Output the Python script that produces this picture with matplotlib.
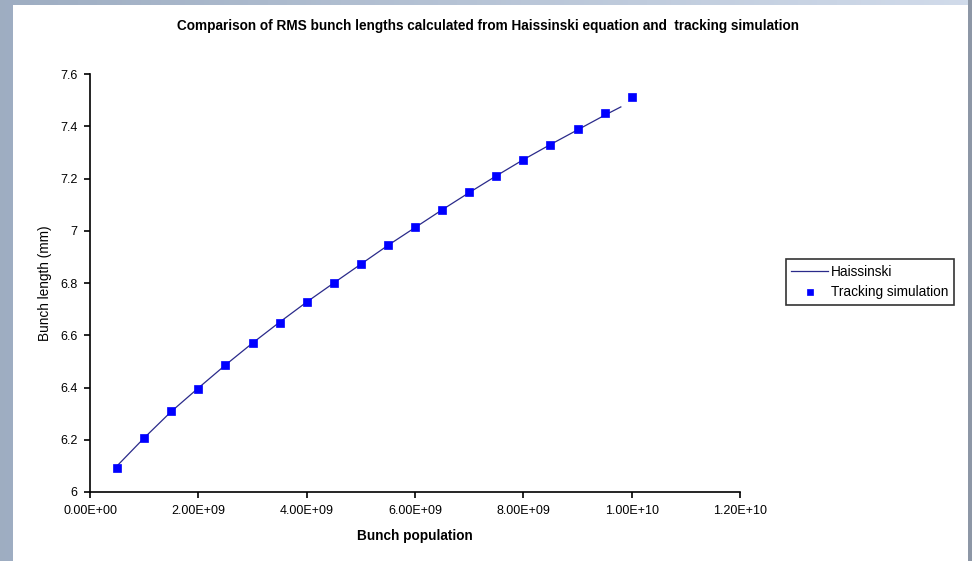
import matplotlib.pyplot as plt
import numpy as np
from matplotlib.patches import Rectangle
from matplotlib.ticker import FuncFormatter, MultipleLocator

plt.rcParams['font.family'] = ['Liberation Sans', 'DejaVu Sans']

# Tracking simulation points
track_n = [0.5e9, 1.0e9, 1.5e9, 2.0e9, 2.5e9, 3.0e9, 3.5e9, 4.0e9, 4.5e9, 5.0e9,
           5.5e9, 6.0e9, 6.5e9, 7.0e9, 7.5e9, 8.0e9, 8.5e9, 9.0e9, 9.5e9, 1.0e10]
track_len = [6.092, 6.207, 6.310, 6.394, 6.486, 6.570, 6.647, 6.727, 6.800, 6.873,
             6.945, 7.014, 7.079, 7.148, 7.210, 7.271, 7.328, 7.389, 7.451, 7.512]

# Haissinski curve
hais_n = [0.5e9, 1.0e9, 1.5e9, 2.0e9, 2.5e9, 3.0e9, 3.5e9, 4.0e9, 4.5e9, 5.0e9,
          5.5e9, 6.0e9, 6.5e9, 7.0e9, 7.5e9, 8.0e9, 8.5e9, 9.0e9, 9.5e9, 9.8e9]
hais_len = [6.100, 6.207, 6.308, 6.398, 6.486, 6.570, 6.650, 6.727, 6.800, 6.872,
            6.944, 7.012, 7.080, 7.146, 7.210, 7.272, 7.330, 7.386, 7.442, 7.474]

fig = plt.figure(figsize=(9.72, 5.61), dpi=100, facecolor='#c9d5e6')

# slide-like background: gradient frame with white panel
bg = fig.add_axes([0, 0, 1, 1], zorder=-10)
grad = np.linspace(0, 1, 200)
img = np.ones((10, 200, 3))
left = np.array([0.62, 0.68, 0.76])
light = np.array([0.82, 0.86, 0.92])
for i, g in enumerate(grad):
    img[:, i] = left * (1 - g) + light * g
bg.imshow(img, extent=[0, 1, 0, 1], aspect='auto')
bg.add_patch(Rectangle((13 / 972, 0), (968 - 13) / 972, 1 - 5 / 561,
                       facecolor='white', edgecolor='none'))
bg.add_patch(Rectangle((968 / 972, 0), 4 / 972, 1, facecolor='#8d97a6', edgecolor='none'))
bg.set_xlim(0, 1)
bg.set_ylim(0, 1)
bg.axis('off')

ax = fig.add_axes([90 / 972, 1 - 492 / 561, 650 / 972, 418 / 561])
ax.set_facecolor('none')

ax.plot(hais_n, hais_len, color='#2a2a8a', lw=0.9, label='Haissinski', zorder=2)
ax.plot(track_n, track_len, ls='none', marker='s', ms=5.2, color='#0000ff',
        mec='#0000ff', mew=0.5, label='Tracking simulation', zorder=3)

ax.set_xlim(0, 1.2e10)
ax.set_ylim(6, 7.6)
ax.xaxis.set_major_locator(MultipleLocator(2e9))
ax.yaxis.set_major_locator(MultipleLocator(0.2))
ax.xaxis.set_major_formatter(FuncFormatter(lambda v, p: f"{v:.2E}"))
ax.yaxis.set_major_formatter(FuncFormatter(lambda v, p: f"{v:g}"))

for s in ['top', 'right']:
    ax.spines[s].set_visible(False)
for s in ['left', 'bottom']:
    ax.spines[s].set_linewidth(1.2)
    ax.spines[s].set_color('black')
ax.tick_params(direction='out', length=4, width=1.2, labelsize=9, pad=5)

ax.set_xlabel('Bunch population', fontsize=9.8, fontweight='bold', labelpad=9)
ax.set_ylabel('Bunch length (mm)', fontsize=9.8, labelpad=6)

fig.text(488 / 972, 1 - 26 / 561,
         'Comparison of RMS bunch lengths calculated from Haissinski equation and  tracking simulation',
         ha='center', va='center', fontsize=9.8, fontweight='bold')

leg = fig.legend(loc='center left', bbox_to_anchor=(779 / 972, 1 - 282 / 561),
                 fontsize=9.8, frameon=True, fancybox=False, handlelength=2.7,
                 borderpad=0.4, labelspacing=0.5, handletextpad=0.2,
                 markerscale=0.8)
leg.get_frame().set_edgecolor('black')
leg.get_frame().set_linewidth(1.2)

fig.savefig('out.png', dpi=100)
